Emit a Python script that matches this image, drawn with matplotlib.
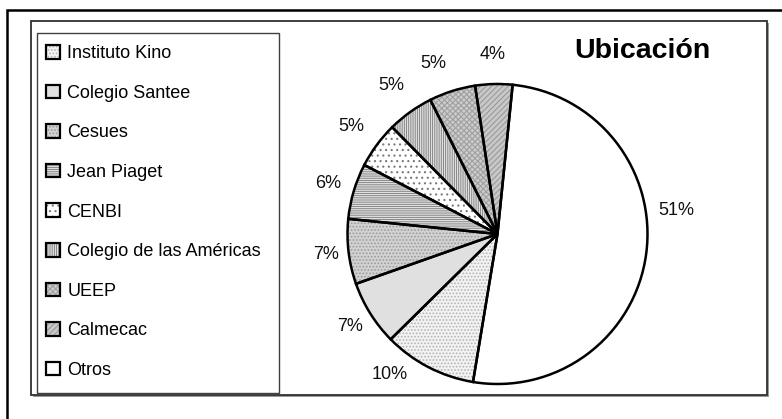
import numpy as np
import matplotlib
matplotlib.use("Agg")
import matplotlib.pyplot as plt
from matplotlib.patches import Rectangle, Patch
from matplotlib.legend_handler import HandlerTuple

plt.rcParams['font.family'] = ['Liberation Sans', 'DejaVu Sans']
plt.rcParams['hatch.linewidth'] = 0.8

# ---- data ----
categories = ["Instituto Kino", "Colegio Santee", "Cesues", "Jean Piaget", "CENBI",
              "Colegio de las Américas", "UEEP", "Calmecac", "Otros"]
values = [10, 7, 7, 6, 5, 5, 5, 4, 51]
pct_labels = ["10%", "7%", "7%", "6%", "5%", "5%", "5%", "4%", "51%"]
title_text = "Ubicación"

# ---- styles ----
face_colors = ['#f2f2f2', '#e0e0e0', '#d2d2d2', '#ffffff', '#ffffff',
               '#ffffff', '#cccccc', '#c8c8c8', '#ffffff']
hatches = ['.....', '', '.....', '---------', '...',
           '|||||||||', 'xxxxxx', '//////', '']
hatch_colors = ['#b4b4b4', '#e0e0e0', '#9a9a9a', '#8a8a8a', '#7a7a7a',
                '#8a8a8a', '#a0a0a0', '#9a9a9a', '#ffffff']
label_nudge_deg = [-10, 0, 0, 0, 0, 0, 3, 0, 15]

W, H = 782, 419
fig = plt.figure(figsize=(W / 100, H / 100), dpi=100)

def fx(px):
    return px / W

def fy(py):
    return 1 - py / H

# outer frame (clipped on right / bottom)
fig.add_artist(Rectangle((fx(7), fy(440)), fx(800), (440 - 10) / H, transform=fig.transFigure,
                         fill=False, edgecolor='black', linewidth=1.8))
# chart frame with shadow
fig.add_artist(Rectangle((fx(33), fy(397)), fx(767 - 31), (395 - 21) / H, transform=fig.transFigure,
                         facecolor='#9a9a9a', edgecolor='none', zorder=0.5))
fig.add_artist(Rectangle((fx(31), fy(395)), fx(767 - 31), (395 - 21) / H, transform=fig.transFigure,
                         facecolor='white', edgecolor='#303030', linewidth=1.3, zorder=0.6))
# legend frame
fig.add_artist(Rectangle((fx(37), fy(393)), fx(279 - 37), (393 - 33) / H, transform=fig.transFigure,
                         fill=False, edgecolor='#404040', linewidth=1.0, zorder=0.7))

# pie axes
cx, cy, R = 497.5, 234, 150
ax = fig.add_axes([fx(cx - R), fy(cy + R), fx(2 * R), 2 * R / H])
ax.set_zorder(2)
ax.patch.set_alpha(0)

start = 260.6
wedges, _ = ax.pie(values, startangle=start, counterclock=False, colors=face_colors,
                   wedgeprops=dict(linewidth=0))
for w, h, hc in zip(wedges, hatches, hatch_colors):
    w.set_edgecolor(hc)
    w.set_linewidth(0)
    if h:
        w.set_hatch(h)
outline, _ = ax.pie(values, startangle=start, counterclock=False,
                    wedgeprops=dict(fill=False, edgecolor='black', linewidth=1.8))

# percentage labels placed outside
for w, lab, nud in zip(wedges, pct_labels, label_nudge_deg):
    mid = np.deg2rad((w.theta1 + w.theta2) / 2 + nud)
    ux, uy = np.cos(mid), np.sin(mid)
    half_w = 6.3 * len(lab)
    half_h = 20 if uy > 0 else 8
    d = R + 9 + abs(ux) * half_w + abs(uy) * half_h
    ax.text(ux * d / R, uy * d / R, lab, ha='center', va='center', fontsize=13, color='#111111')

ax.set_xlim(-1, 1)
ax.set_ylim(-1, 1)
ax.set_aspect('equal')
ax.axis('off')

# title
fig.text(fx(642), fy(51), title_text, ha='center', va='center', fontsize=20.5,
         fontweight='bold', color='black', zorder=3)

# legend
handles = []
for fc, h, hc in zip(face_colors, hatches, hatch_colors):
    inner = Patch(facecolor=fc, hatch=h, edgecolor=hc, linewidth=0)
    border = Patch(fill=False, edgecolor='black', linewidth=1.6)
    handles.append((inner, border))
fs = 13
fpx = fs * 100 / 72
leg = fig.legend(handles, categories, loc='upper left',
                 bbox_to_anchor=(fx(46), fy(45)), bbox_transform=fig.transFigure,
                 frameon=False, fontsize=fs, borderpad=0, borderaxespad=0,
                 handlelength=14 / fpx, handleheight=14 / fpx, handletextpad=0.4,
                 labelspacing=1.25,
                 handler_map={tuple: HandlerTuple(ndivide=1, pad=0)})
leg.set_zorder(3)

fig.savefig('out.png', dpi=100)
